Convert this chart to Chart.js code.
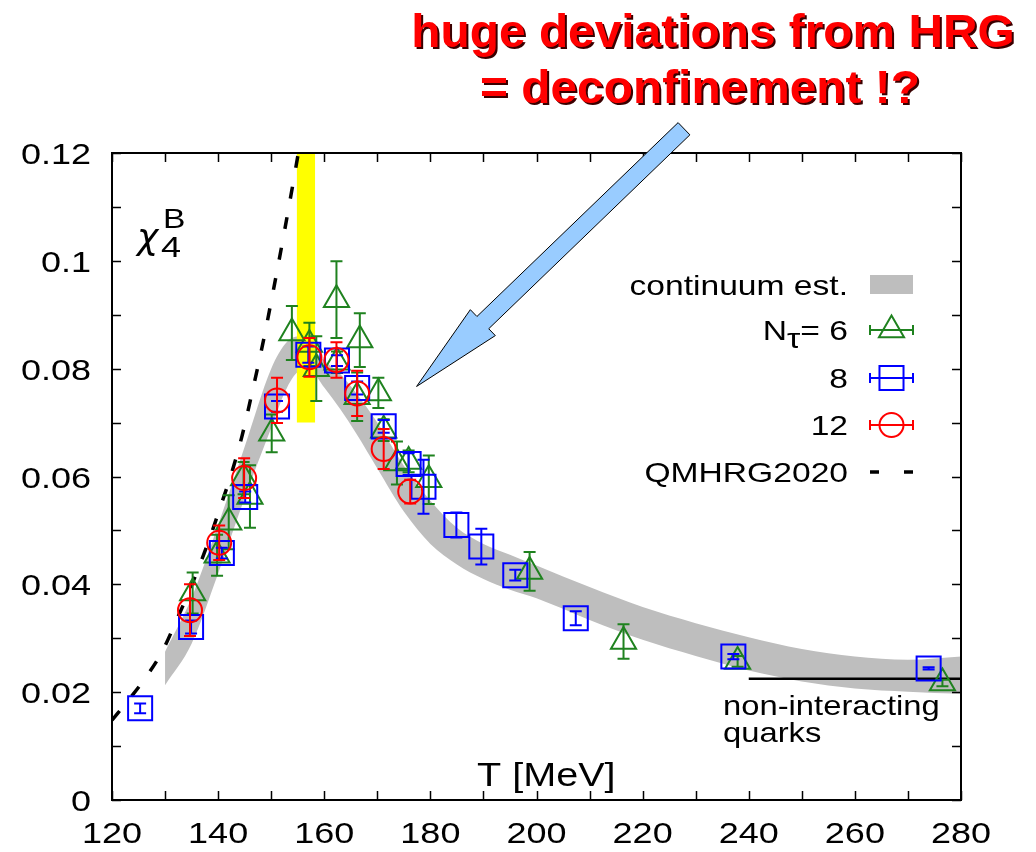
<!DOCTYPE html>
<html>
<head>
<meta charset="utf-8">
<script src="https://cdn.jsdelivr.net/npm/chart.js@4.4.1/dist/chart.umd.min.js"></script>
<style>
  html, body { margin: 0; padding: 0; background: #ffffff; }
  #wrap { width: 1036px; height: 852px; }
</style>
</head>
<body>
<div id="wrap"><canvas id="chart" width="1036" height="852"></canvas></div>
<script>
// Fourth-order baryon number fluctuation chi_4^B versus temperature T [MeV]

// Axis ranges and tick labels
const xRange = [120, 280];
const yRange = [0, 0.12];
const xTickValues = [120, 140, 160, 180, 200, 220, 240, 260, 280];
const xTickLabels = ['120', '140', '160', '180', '200', '220', '240', '260', '280'];
const yTickValues = [0, 0.02, 0.04, 0.06, 0.08, 0.1, 0.12];
const yTickLabels = ['0', '0.02', '0.04', '0.06', '0.08', '0.1', '0.12'];

// Lattice data, N_tau = 6
const T6   = [135.2, 139.8, 142.0, 144.8, 146.0, 150.1, 153.9, 157.2, 158.5, 162.3, 162.4, 166.2, 166.7, 170.2, 171.2, 173.7, 175.9, 179.7, 198.7, 216.4, 237.9, 276.5];
const chi6 = [0.0384, 0.0454, 0.0515, 0.0597, 0.0563, 0.0680, 0.0866, 0.0845, 0.0800, 0.0928, 0.0812, 0.0748, 0.0853, 0.0755, 0.0686, 0.0625, 0.0628, 0.0594, 0.0424, 0.0294, 0.0257, 0.0217];
const err6 = [0.0038, 0.0038, 0.0050, 0.0030, 0.0058, 0.0035, 0.0050, 0.0040, 0.0060, 0.0071, 0.0020, 0.0045, 0.0050, 0.0028, 0.0020, 0.0040, 0.0020, 0.0045, 0.0036, 0.0032, 0.0010, 0.0006];

// Lattice data, N_tau = 8
const T8   = [125.3, 134.9, 140.7, 145.1, 151.1, 157.0, 162.4, 166.2, 171.2, 175.9, 178.7, 184.9, 189.6, 196.0, 207.4, 237.1, 273.9];
const chi8 = [0.0170, 0.0321, 0.0458, 0.0562, 0.0730, 0.0826, 0.0815, 0.0764, 0.0693, 0.0623, 0.0581, 0.0510, 0.0470, 0.0417, 0.0337, 0.0266, 0.0244];
const err8 = [0.0009, 0.0012, 0.0010, 0.0010, 0.0010, 0.0015, 0.0010, 0.0012, 0.0012, 0.0020, 0.0050, 0.0023, 0.0033, 0.0010, 0.0013, 0.0005, 0.0002];

// Lattice data, N_tau = 12
const T12   = [134.7, 140.2, 144.9, 151.1, 157.2, 162.3, 166.2, 171.2, 176.2];
const chi12 = [0.0352, 0.0477, 0.0597, 0.0741, 0.0821, 0.0816, 0.0754, 0.0651, 0.0572];
const err12 = [0.0048, 0.0032, 0.0037, 0.0042, 0.0036, 0.0033, 0.0042, 0.0037, 0.0022];

// Continuum estimate band
const bandT     = [130, 135, 140, 145, 150, 153, 155.5, 158, 160, 163, 166, 170, 175, 180, 185, 190, 195, 200, 210, 220, 230, 240, 250, 260, 270, 280];
const bandUpper = [0.0275, 0.0375, 0.0510, 0.0655, 0.0800, 0.0850, 0.0860, 0.0835, 0.0815, 0.0790, 0.0755, 0.0700, 0.0620, 0.0555, 0.0505, 0.0475, 0.0455, 0.0435, 0.0395, 0.0358, 0.0328, 0.0302, 0.0280, 0.0266, 0.0260, 0.0266];
const bandLower = [0.0213, 0.0290, 0.0420, 0.0560, 0.0690, 0.0765, 0.0795, 0.0790, 0.0765, 0.0725, 0.0680, 0.0615, 0.0535, 0.0475, 0.0437, 0.0410, 0.0390, 0.0374, 0.0334, 0.0297, 0.0267, 0.0240, 0.0220, 0.0207, 0.0201, 0.0197];

// QMHRG2020 hadron resonance gas curve
const hrgT   = [120, 123.4, 126.7, 129.6, 132, 134.4, 136.5, 138.5, 140.4, 142.5, 144.5, 146.5, 148.5, 150.5, 152.5, 154.5, 156.5];
const hrgChi = [0.0148, 0.0189, 0.0232, 0.0278, 0.0330, 0.0384, 0.0435, 0.0488, 0.0543, 0.0605, 0.0675, 0.0760, 0.0850, 0.0950, 0.1055, 0.1165, 0.1280];

// Pseudo-critical temperature window and free quark limit
const tcRange   = [154.8, 158.3];
const tcChi     = [0.07, 0.12];
const freeQuarkT   = [240, 280];
const freeQuarkChi = 0.0225;

// Annotation arrow (tail, tip) in data units
const arrowTail = [227.8, 0.1245];
const arrowTip  = [177.4, 0.0767];

const GREEN = '#1f821f';
const BLUE  = '#0000ff';
const RED   = '#ff0000';
const GRAY  = '#bebebe';
const FONT  = '"Liberation Sans", Arial, Helvetica, sans-serif';
const SX    = 1.2;   // horizontal stretch of the plot lettering

const pts = (xs, ys) => xs.map((v, i) => ({ x: v, y: ys[i] }));

function sText(ctx, str, x, y, font, color, align, sx) {
  ctx.save();
  ctx.font = font;
  ctx.fillStyle = color;
  ctx.textAlign = align;
  ctx.textBaseline = 'alphabetic';
  ctx.translate(x, y);
  ctx.scale(sx, 1);
  ctx.fillText(str, 0, 0);
  ctx.restore();
}

function markerStyle(color, style, radius) {
  return {
    showLine: false,
    pointStyle: style,
    pointRadius: radius,
    pointHoverRadius: radius,
    pointBorderWidth: 2,
    pointBorderColor: color,
    pointBackgroundColor: 'rgba(0,0,0,0)',
    borderColor: color,
    backgroundColor: 'rgba(0,0,0,0)'
  };
}

// vertical error bars drawn underneath each marker set
const errorBars = {
  id: 'errorBars',
  beforeDatasetDraw(chart, args) {
    const ds = chart.data.datasets[args.index];
    if (!ds.errors) return;
    const { ctx, scales: { x, y } } = chart;
    ctx.save();
    ctx.strokeStyle = ds.borderColor;
    ctx.lineWidth = 2;
    ds.data.forEach((p, i) => {
      const e = ds.errors[i];
      const px = x.getPixelForValue(p.x);
      const top = y.getPixelForValue(p.y + e);
      const bot = y.getPixelForValue(p.y - e);
      const cap = 6;
      ctx.beginPath();
      ctx.moveTo(px, top); ctx.lineTo(px, bot);
      ctx.moveTo(px - cap, top); ctx.lineTo(px + cap, top);
      ctx.moveTo(px - cap, bot); ctx.lineTo(px + cap, bot);
      ctx.stroke();
    });
    ctx.restore();
  }
};

// frame, ticks, labels, legend and annotations
const decor = {
  id: 'decor',
  afterDraw(chart) {
    const { ctx, chartArea: a, scales: { x, y } } = chart;
    ctx.save();

    // ticks on all four sides, pointing inwards
    ctx.strokeStyle = '#000';
    ctx.lineWidth = 1.5;
    const tl = 9;
    ctx.beginPath();
    for (let v = xRange[0]; v <= xRange[1] + 1e-9; v += 10) {
      const px = Math.round(x.getPixelForValue(v)) + 0.5;
      ctx.moveTo(px, a.bottom); ctx.lineTo(px, a.bottom - tl);
      ctx.moveTo(px, a.top); ctx.lineTo(px, a.top + tl);
    }
    for (let k = 0; k <= 12; k++) {
      const py = Math.round(y.getPixelForValue(k * 0.01)) + 0.5;
      ctx.moveTo(a.left, py); ctx.lineTo(a.left + tl, py);
      ctx.moveTo(a.right, py); ctx.lineTo(a.right - tl, py);
    }
    ctx.stroke();

    // frame
    ctx.lineWidth = 2;
    ctx.strokeRect(a.left, a.top, a.right - a.left, a.bottom - a.top);

    // tick labels
    const tickFont = '30px ' + FONT;
    xTickValues.forEach((v, i) => {
      sText(ctx, xTickLabels[i], x.getPixelForValue(v), a.bottom + 43, tickFont, '#000', 'center', SX);
    });
    yTickValues.forEach((v, i) => {
      sText(ctx, yTickLabels[i], a.left - 21, y.getPixelForValue(v) + 11, tickFont, '#000', 'right', SX);
    });

    // axis titles
    sText(ctx, 'T [MeV]', 477, 786, '33px ' + FONT, '#000', 'left', SX);
    sText(ctx, 'χ', 137, 249, 'italic 36px "DejaVu Sans", ' + FONT, '#000', 'left', 1.0);
    sText(ctx, '4', 161, 257, '30px ' + FONT, '#000', 'left', SX);
    sText(ctx, 'B', 163, 228, '28px ' + FONT, '#000', 'left', SX);

    // legend
    const lf = '28px ' + FONT;
    const lx = 848, sx0 = 870, sx1 = 913, sc = (sx0 + sx1) / 2;
    const rows = [285, 330, 378, 425, 472];
    sText(ctx, 'continuum est.', lx, rows[0] + 10, lf, '#000', 'right', SX);
    ctx.fillStyle = GRAY;
    ctx.fillRect(sx0, rows[0] - 10, sx1 - sx0, 19);

    // N_tau = 6 label built from its pieces
    ctx.font = lf;
    const wEq = ctx.measureText('= 6').width * SX;
    const wTau = ctx.measureText('τ').width * SX;
    sText(ctx, '= 6', lx, rows[1] + 10, lf, '#000', 'right', SX);
    sText(ctx, 'τ', lx - wEq, rows[1] + 18, lf, '#000', 'right', SX);
    sText(ctx, 'N', lx - wEq - wTau, rows[1] + 10, lf, '#000', 'right', SX);
    sText(ctx, '8', lx, rows[2] + 10, lf, '#000', 'right', SX);
    sText(ctx, '12', lx, rows[3] + 10, lf, '#000', 'right', SX);
    sText(ctx, 'QMHRG2020', lx, rows[4] + 10, lf, '#000', 'right', SX);

    const samples = [[GREEN, 'triangle', 14.5], [BLUE, 'rect', 17], [RED, 'circle', 12]];
    samples.forEach((s, i) => {
      const ry = rows[i + 1];
      ctx.strokeStyle = s[0];
      ctx.lineWidth = 2;
      ctx.beginPath();
      ctx.moveTo(sx0, ry); ctx.lineTo(sx1, ry);
      ctx.moveTo(sx0, ry - 5); ctx.lineTo(sx0, ry + 5);
      ctx.moveTo(sx1, ry - 5); ctx.lineTo(sx1, ry + 5);
      ctx.stroke();
      ctx.fillStyle = 'rgba(0,0,0,0)';
      Chart.helpers.drawPoint(ctx, { pointStyle: s[1], radius: s[2], borderWidth: 2, rotation: 0 }, sc, ry);
    });
    ctx.strokeStyle = '#000';
    ctx.lineWidth = 3.5;
    ctx.setLineDash([9, 25]);
    ctx.beginPath();
    ctx.moveTo(sx0, rows[4]); ctx.lineTo(sx1, rows[4]);
    ctx.stroke();
    ctx.setLineDash([]);

    // free quark label
    const qf = '28px ' + FONT;
    sText(ctx, 'non-interacting', 723, 715, qf, '#000', 'left', 1.17);
    sText(ctx, 'quarks', 723, 742, qf, '#000', 'left', 1.17);

    // arrow pointing at the peak region
    const p0 = [x.getPixelForValue(arrowTail[0]), y.getPixelForValue(arrowTail[1])];
    const p1 = [x.getPixelForValue(arrowTip[0]), y.getPixelForValue(arrowTip[1])];
    const dx = p1[0] - p0[0], dy = p1[1] - p0[1];
    const len = Math.hypot(dx, dy);
    const u = [dx / len, dy / len], n = [-u[1], u[0]];
    const hw = 8.5, hh = 18, hl = 92;
    const b = [p1[0] - u[0] * hl, p1[1] - u[1] * hl];
    ctx.beginPath();
    ctx.moveTo(p0[0] + n[0] * hw, p0[1] + n[1] * hw);
    ctx.lineTo(b[0] + n[0] * hw, b[1] + n[1] * hw);
    ctx.lineTo(b[0] + n[0] * hh, b[1] + n[1] * hh);
    ctx.lineTo(p1[0], p1[1]);
    ctx.lineTo(b[0] - n[0] * hh, b[1] - n[1] * hh);
    ctx.lineTo(b[0] - n[0] * hw, b[1] - n[1] * hw);
    ctx.lineTo(p0[0] - n[0] * hw, p0[1] - n[1] * hw);
    ctx.closePath();
    ctx.fillStyle = '#99ccff';
    ctx.fill();
    ctx.strokeStyle = '#000';
    ctx.lineWidth = 1;
    ctx.stroke();

    // headline with drop shadow
    const hf = 'bold 46px ' + FONT;
    const lines = [['huge deviations from HRG', 713, 47], ['= deconfinement !?', 700, 103]];
    lines.forEach(l => {
      sText(ctx, l[0], l[1] + 2, l[2] + 2, hf, '#3a0000', 'center', 1.04);
      sText(ctx, l[0], l[1], l[2], hf, RED, 'center', 1.04);
    });

    ctx.restore();
  }
};

const chart = new Chart(document.getElementById('chart'), {
  type: 'scatter',
  data: {
    datasets: [
      {
        label: 'continuum est. (lower)',
        data: pts(bandT, bandLower),
        showLine: true, fill: false,
        borderWidth: 0, borderColor: 'rgba(0,0,0,0)',
        pointRadius: 0, cubicInterpolationMode: 'monotone',
        order: 10
      },
      {
        label: 'continuum est.',
        data: pts(bandT, bandUpper),
        showLine: true, fill: '-1',
        backgroundColor: GRAY,
        borderWidth: 0, borderColor: 'rgba(0,0,0,0)',
        pointRadius: 0, cubicInterpolationMode: 'monotone',
        order: 10
      },
      {
        label: 'T_pc',
        data: pts(tcRange, [tcChi[1], tcChi[1]]),
        showLine: true, fill: { value: tcChi[0] },
        backgroundColor: '#ffff00',
        borderWidth: 0, borderColor: 'rgba(0,0,0,0)',
        pointRadius: 0,
        order: 9
      },
      {
        label: 'QMHRG2020',
        data: pts(hrgT, hrgChi),
        showLine: true, fill: false,
        borderColor: '#000', borderWidth: 3.5, borderDash: [12, 19],
        pointRadius: 0, cubicInterpolationMode: 'monotone',
        clip: 0,
        order: 8
      },
      {
        label: 'non-interacting quarks',
        data: pts(freeQuarkT, [freeQuarkChi, freeQuarkChi]),
        showLine: true, fill: false,
        borderColor: '#000', borderWidth: 2.5,
        pointRadius: 0,
        order: 7
      },
      Object.assign({ label: 'N_tau=6', data: pts(T6, chi6), errors: err6, order: 3 }, markerStyle(GREEN, 'triangle', 14.5)),
      Object.assign({ label: '8', data: pts(T8, chi8), errors: err8, order: 2 }, markerStyle(BLUE, 'rect', 17)),
      Object.assign({ label: '12', data: pts(T12, chi12), errors: err12, order: 1 }, markerStyle(RED, 'circle', 12))
    ]
  },
  options: {
    responsive: false,
    animation: false,
    events: [],
    devicePixelRatio: 1,
    layout: { padding: { left: 112, right: 75, top: 153, bottom: 52 } },
    scales: {
      x: { type: 'linear', min: xRange[0], max: xRange[1], display: false },
      y: { type: 'linear', min: yRange[0], max: yRange[1], display: false }
    },
    plugins: {
      legend: { display: false },
      tooltip: { enabled: false },
      title: { display: false }
    }
  },
  plugins: [errorBars, decor]
});
</script>
</body>
</html>
